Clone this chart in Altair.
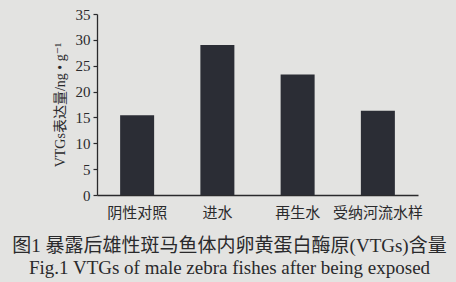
import altair as alt
import pandas as pd

categories = ["阴性对照", "进水", "再生水", "受纳河流水样"]
values = [15.4, 29.0, 23.3, 16.3]
y_ticks = [0, 5, 10, 15, 20, 25, 30, 35]
y_title = "VTGs表达量/ng • g⁻¹"
caption = ["图1 暴露后雄性斑马鱼体内卵黄蛋白酶原(VTGs)含量",
           "Fig.1 VTGs of male zebra fishes after being exposed"]

df = pd.DataFrame({"cat": categories, "val": values})

FONT = "Liberation Serif, DejaVu Serif, Noto Sans CJK SC"
INK = "#2a2a2c"

chart = alt.Chart(df).mark_bar(size=34, color="#2b2d35").encode(
    x=alt.X("cat:N", sort=categories,
            scale=alt.Scale(paddingInner=0, paddingOuter=0),
            axis=alt.Axis(title=None, labelAngle=0, ticks=False, labelPadding=10,
                          labelFontSize=15, labelFont=FONT, labelColor=INK,
                          domainColor=INK, domainWidth=1.3)),
    y=alt.Y("val:Q", scale=alt.Scale(domain=[0, 35], nice=False),
            axis=alt.Axis(values=y_ticks, title=y_title, grid=False,
                          tickSize=4, tickColor=INK, tickWidth=1.2,
                          labelFontSize=15, labelFont=FONT, labelColor=INK,
                          labelPadding=3, domainColor=INK, domainWidth=1.3,
                          titleFont=FONT, titleFontSize=14, titleFontWeight="normal",
                          titleColor=INK, titlePadding=8)),
).properties(
    width=321, height=181,
    autosize=alt.AutoSizeParams(type="none"),
    padding={"left": 97, "top": 14, "right": 38, "bottom": 87},
    background="#e3e3e1",
    title=alt.TitleParams(text=caption, orient="bottom", anchor="middle",
                          font=FONT, fontSize=19, fontWeight="normal",
                          color=INK, dx=-28, offset=17, lineHeight=22),
).configure_view(stroke=None)

chart.save("out.html", embed_options={"renderer": "svg", "actions": False})
